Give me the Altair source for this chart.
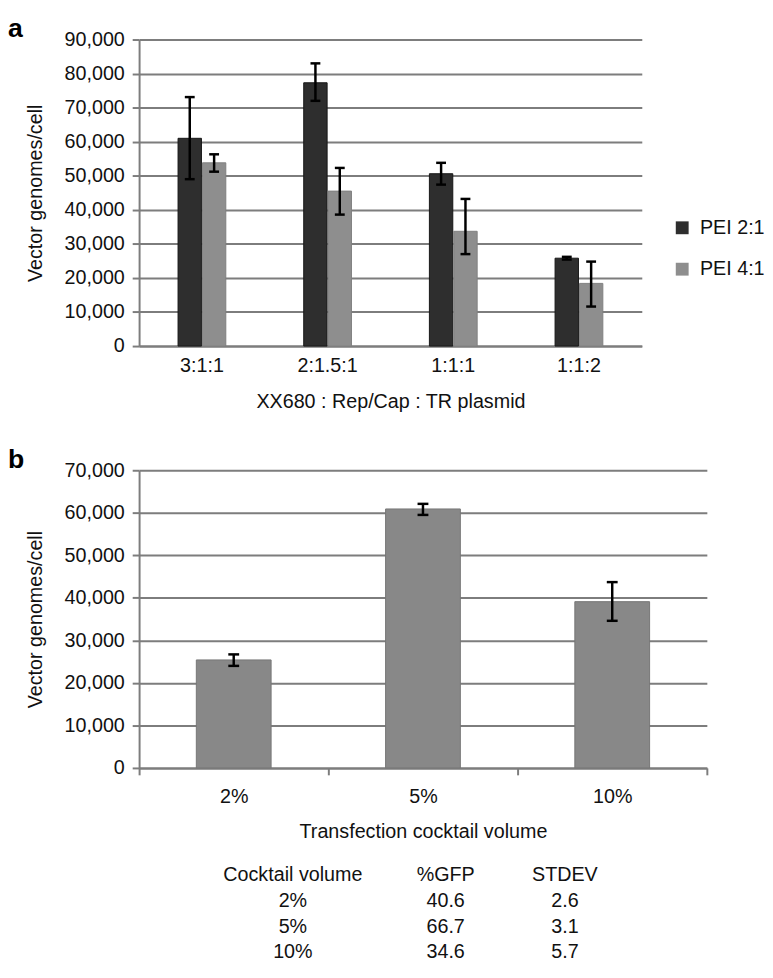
import altair as alt
import pandas as pd

# ---------------- data ----------------
ratios = ["3:1:1", "2:1.5:1", "1:1:1", "1:1:2"]
series = ["PEI 2:1", "PEI 4:1"]
pei21_mean = [61000, 77300, 50600, 25800]
pei21_low = [49000, 72000, 47400, 25400]
pei21_high = [73100, 83000, 53800, 26200]
pei41_mean = [53800, 45500, 33700, 18400]
pei41_low = [51200, 38600, 27000, 11600]
pei41_high = [56300, 52300, 43200, 24800]

volumes = ["2%", "5%", "10%"]
vol_mean = [25400, 60900, 39100]
vol_low = [24000, 59500, 34600]
vol_high = [26700, 62100, 43700]

table_header = ["Cocktail volume", "%GFP", "STDEV"]
table_volume = ["2%", "5%", "10%"]
table_gfp = ["40.6", "66.7", "34.6"]
table_stdev = ["2.6", "3.1", "5.7"]

# ---------------- style ----------------
FONT = "Liberation Sans"
FS = 20
DARK = "#2e2e2e"
DARK_EDGE = "#161616"
LIGHT = "#8e8e8e"
LIGHT_EDGE = "#808080"
BBAR = "#888888"
BBAR_EDGE = "#767676"
GRID = "#7d7d7d"
TXT = "#111111"
YT = "Vector genomes/cell"

# ---------------- panel a ----------------
dfa = pd.DataFrame({
    "ratio": ratios * 2,
    "series": [series[0]] * 4 + [series[1]] * 4,
    "mean": pei21_mean + pei41_mean,
    "low": pei21_low + pei41_low,
    "high": pei21_high + pei41_high,
})

xa = alt.X("ratio:N", sort=ratios,
           scale=alt.Scale(paddingInner=0.62, paddingOuter=0.31),
           axis=alt.Axis(title="XX680 : Rep/Cap : TR plasmid", labelAngle=0,
                         ticks=False, tickSize=0, grid=False, labelPadding=10,
                         titlePadding=16))
xoff = alt.XOffset("series:N", sort=series, scale=alt.Scale(paddingInner=0.04))
ya_axis = alt.Axis(values=list(range(0, 90001, 10000)), format=",d", grid=True,
                   tickSize=7, labelPadding=8, titlePadding=19, labelOverlap=False)
ya_scale = alt.Scale(domain=[0, 90000], nice=False)


def ya(field):
    return alt.Y(field, type="quantitative", title=YT, scale=ya_scale, axis=ya_axis)


bars_a = alt.Chart(dfa).mark_bar(strokeWidth=1).encode(
    x=xa, xOffset=xoff,
    y=ya("mean"),
    fill=alt.Fill("series:N", sort=series,
                  scale=alt.Scale(domain=series, range=[DARK, LIGHT]),
                  legend=alt.Legend(title=None, orient="none", legendX=541, legendY=181,
                                    padding=0, symbolType="square", symbolSize=170,
                                    symbolStrokeWidth=0, labelFontSize=FS,
                                    labelOffset=8, rowPadding=22, labelColor=TXT)),
    stroke=alt.Stroke("series:N", sort=series,
                      scale=alt.Scale(domain=series, range=[DARK_EDGE, LIGHT_EDGE]),
                      legend=None),
)
err_a = alt.Chart(dfa).mark_rule(color="black", strokeWidth=2.5).encode(
    x=xa, xOffset=xoff, y=ya("low"), y2="high:Q")
cap_lo_a = alt.Chart(dfa).mark_tick(color="black", thickness=2.5, size=10, opacity=1).encode(
    x=xa, xOffset=xoff, y=ya("low"))
cap_hi_a = alt.Chart(dfa).mark_tick(color="black", thickness=2.5, size=10, opacity=1).encode(
    x=xa, xOffset=xoff, y=ya("high"))
lab_a = alt.Chart(pd.DataFrame({"t": ["a"]})).mark_text(
    align="left", baseline="middle", fontSize=27, fontWeight="bold", color="black"
).encode(text="t:N", x=alt.value(-133), y=alt.value(-11))

panel_a = alt.layer(bars_a, err_a, cap_lo_a, cap_hi_a, lab_a).properties(width=510, height=311)

# ---------------- panel b ----------------
dfb = pd.DataFrame({"vol": volumes, "mean": vol_mean, "low": vol_low, "high": vol_high})
xb = alt.X("vol:N", sort=volumes, scale=alt.Scale(paddingInner=0, paddingOuter=0),
           axis=alt.Axis(title="Transfection cocktail volume", labelAngle=0,
                         tickBand="extent", tickSize=7, grid=False,
                         labelPadding=12, titlePadding=16))
yb_axis = alt.Axis(values=list(range(0, 70001, 10000)), format=",d", grid=True,
                   tickSize=7, labelPadding=8, titlePadding=19, labelOverlap=False)
yb_scale = alt.Scale(domain=[0, 70000], nice=False)


def yb(field):
    return alt.Y(field, type="quantitative", title=YT, scale=yb_scale, axis=yb_axis)


bars_b = alt.Chart(dfb).mark_bar(width=alt.RelativeBandSize(0.395), fill=BBAR,
                                 stroke=BBAR_EDGE, strokeWidth=1).encode(
    x=xb, y=yb("mean"))
err_b = alt.Chart(dfb).mark_rule(color="black", strokeWidth=2.5).encode(
    x=xb, y=yb("low"), y2="high:Q")
cap_lo_b = alt.Chart(dfb).mark_tick(color="black", thickness=2.5, size=11, opacity=1).encode(
    x=xb, y=yb("low"))
cap_hi_b = alt.Chart(dfb).mark_tick(color="black", thickness=2.5, size=11, opacity=1).encode(
    x=xb, y=yb("high"))
plot_b = alt.layer(bars_b, err_b, cap_lo_b, cap_hi_b)

lab_b = alt.Chart(pd.DataFrame({"t": ["b"]})).mark_text(
    align="left", baseline="middle", fontSize=27, fontWeight="bold", color="black"
).encode(text="t:N", x=alt.value(-133), y=alt.value(-10))

rows = ["h", "r1", "r2", "r3"]
col_texts = [
    [table_header[0]] + table_volume,
    [table_header[1]] + table_gfp,
    [table_header[2]] + table_stdev,
]
col_px = [156, 311, 432]
table_layers = []
for texts, px in zip(col_texts, col_px):
    d = pd.DataFrame({"row": rows, "text": texts})
    table_layers.append(
        alt.Chart(d).mark_text(fontSize=FS, color=TXT, align="center", baseline="middle").encode(
            x=alt.value(px),
            y=alt.Y("row:O", sort=rows, scale=alt.Scale(type="point", range=[411, 489], padding=0),
                    axis=None),
            text="text:N"))
table = alt.layer(*table_layers)

panel_b = alt.layer(plot_b, lab_b, table).resolve_scale(y="independent").properties(
    width=576, height=302)

chart = alt.vconcat(panel_a, panel_b, spacing=36).properties(
    padding={"left": 0, "top": 0, "right": 0, "bottom": 0}
).configure(font=FONT).configure_view(stroke=None).configure_axis(
    labelFont=FONT, titleFont=FONT, labelFontSize=FS, titleFontSize=FS,
    titleFontWeight="normal", labelColor=TXT, titleColor=TXT,
    gridColor=GRID, gridWidth=2, domainColor=GRID, domainWidth=2,
    tickColor=GRID, tickWidth=2,
).configure_legend(labelFont=FONT)

chart.save("out.html", embed_options={"renderer": "svg", "actions": False})
